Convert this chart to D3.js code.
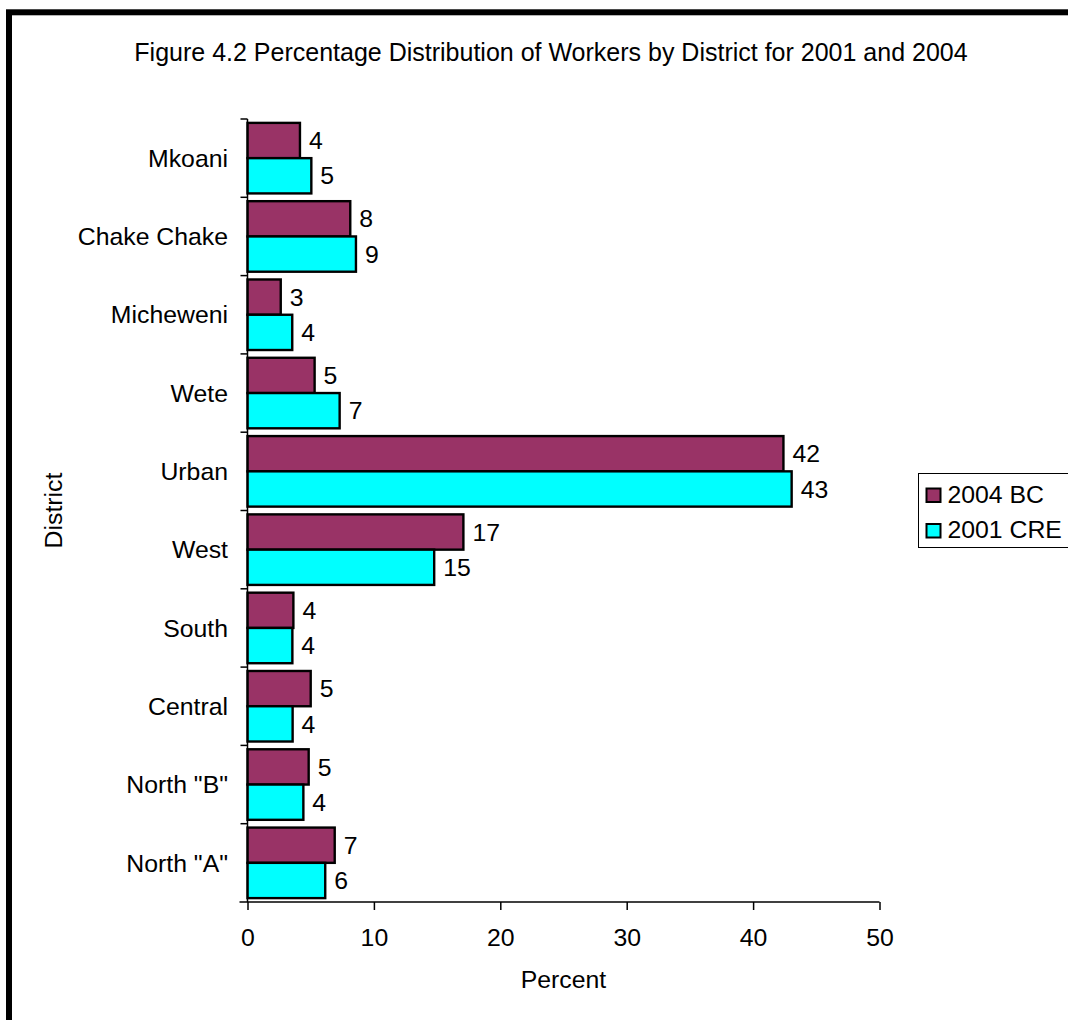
<!DOCTYPE html>
<html>
<head>
<meta charset="utf-8">
<script src="https://cdn.jsdelivr.net/npm/d3@7"></script>
<style>
  html, body { margin: 0; padding: 0; background: #fff; }
  text { font-family: "Liberation Sans", Arial, sans-serif; fill: #000; }
</style>
</head>
<body>
<svg id="chart" width="1068" height="1020"></svg>
<script>
// District categories, top to bottom
const districts = ["Mkoani", "Chake Chake", "Micheweni", "Wete", "Urban", "West", "South", "Central", "North \"B\"", "North \"A\""];
// Series names and colours
const seriesNames = ["2004 BC", "2001 CRE"];
const seriesColors = ["#993366", "#00FFFF"];
// Percentage of workers per district
const values2004 = [4.15, 8.13, 2.63, 5.31, 42.4, 17.08, 3.63, 5.0, 4.84, 6.9];
const values2001 = [5.05, 8.58, 3.54, 7.29, 43.05, 14.77, 3.55, 3.57, 4.42, 6.15];
// Axis ticks
const xTicks = [0, 10, 20, 30, 40, 50];

const titleText = "Figure 4.2 Percentage Distribution of Workers by District for 2001 and 2004";

const FS = "24.8px";

const svg = d3.select("#chart");

// Outer frame (runs past the right and bottom edges)
svg.append("rect")
  .attr("x", 9).attr("y", 12.3)
  .attr("width", 1100).attr("height", 1100)
  .attr("fill", "none").attr("stroke", "#000").attr("stroke-width", 6);

const plot = { left: 247.5, right: 879.5, top: 119, bottom: 902 };

const x = d3.scaleLinear().domain([0, 50]).range([plot.left, plot.right]);
const y = d3.scaleBand().domain(districts).range([plot.top, plot.bottom]).padding(0);
const ySeries = d3.scaleBand().domain(seriesNames).range([0, y.bandwidth()])
  .paddingInner(0).paddingOuter(0.11);

// Title
svg.append("text")
  .attr("x", 551).attr("y", 61)
  .attr("text-anchor", "middle")
  .style("font-size", "25px")
  .text(titleText);

// Bars
const rows = districts.map((d, i) => ({ district: d, vals: [values2004[i], values2001[i]] }));

const groups = svg.append("g").selectAll("g")
  .data(rows).join("g")
  .attr("transform", d => `translate(0,${y(d.district)})`);

groups.selectAll("rect")
  .data(d => d.vals.map((v, j) => ({ v, s: seriesNames[j], c: seriesColors[j] })))
  .join("rect")
  .attr("x", x(0))
  .attr("y", d => ySeries(d.s))
  .attr("width", d => x(d.v) - x(0))
  .attr("height", ySeries.bandwidth())
  .attr("fill", d => d.c)
  .attr("stroke", "#000")
  .attr("stroke-width", 2.4);

groups.selectAll("text.val")
  .data(d => d.vals.map((v, j) => ({ v, s: seriesNames[j] })))
  .join("text")
  .attr("class", "val")
  .attr("x", d => x(d.v) + 9)
  .attr("y", d => ySeries(d.s) + ySeries.bandwidth() / 2)
  .attr("dy", "0.35em")
  .style("font-size", FS)
  .text(d => d3.format(".0f")(d.v));

// Y axis: line, category-boundary ticks, labels
const yAxisG = svg.append("g");
yAxisG.append("line")
  .attr("x1", plot.left).attr("x2", plot.left)
  .attr("y1", plot.top).attr("y2", plot.bottom)
  .attr("stroke", "#000").attr("stroke-width", 1.5);
yAxisG.selectAll("line.tick")
  .data(districts).join("line")
  .attr("class", "tick")
  .attr("x1", plot.left - 7).attr("x2", plot.left)
  .attr("y1", d => y(d)).attr("y2", d => y(d))
  .attr("stroke", "#000").attr("stroke-width", 1.5);
yAxisG.selectAll("text")
  .data(districts).join("text")
  .attr("x", 228)
  .attr("y", d => y(d) + y.bandwidth() / 2)
  .attr("dy", "0.35em")
  .attr("text-anchor", "end")
  .style("font-size", FS)
  .text(d => d);

// X axis
const xAxis = d3.axisBottom(x).tickValues(xTicks).tickSize(8).tickPadding(18).tickSizeOuter(0);
const xAxisG = svg.append("g")
  .attr("transform", `translate(0,${plot.bottom})`)
  .call(xAxis);
xAxisG.select(".domain").remove();
xAxisG.append("line")
  .attr("x1", plot.left - 8).attr("x2", plot.right)
  .attr("stroke", "#000").attr("stroke-width", 1.5);
xAxisG.selectAll(".tick line").attr("stroke", "#000").attr("stroke-width", 1.5);
xAxisG.selectAll(".tick text")
  .style("font-size", FS)
  .style("font-family", "'Liberation Sans', Arial, sans-serif")
  .attr("fill", "#000");

// Axis titles
svg.append("text")
  .attr("x", (plot.left + plot.right) / 2).attr("y", 988)
  .attr("text-anchor", "middle")
  .style("font-size", FS)
  .text("Percent");

svg.append("text")
  .attr("transform", `translate(62,${(plot.top + plot.bottom) / 2}) rotate(-90)`)
  .attr("text-anchor", "middle")
  .style("font-size", FS)
  .text("District");

// Legend
const legend = svg.append("g").attr("transform", "translate(918.5,473.5)");
legend.append("rect")
  .attr("width", 170).attr("height", 74)
  .attr("fill", "#fff").attr("stroke", "#000").attr("stroke-width", 1);
const items = legend.selectAll("g.item")
  .data(seriesNames).join("g")
  .attr("class", "item")
  .attr("transform", (d, i) => `translate(8,${15 + i * 35.5})`);
items.append("rect")
  .attr("width", 14).attr("height", 13.5)
  .attr("fill", (d, i) => seriesColors[i])
  .attr("stroke", "#000").attr("stroke-width", 2);
items.append("text")
  .attr("x", 21).attr("y", 14)
  .style("font-size", FS)
  .text(d => d);
</script>
</body>
</html>
